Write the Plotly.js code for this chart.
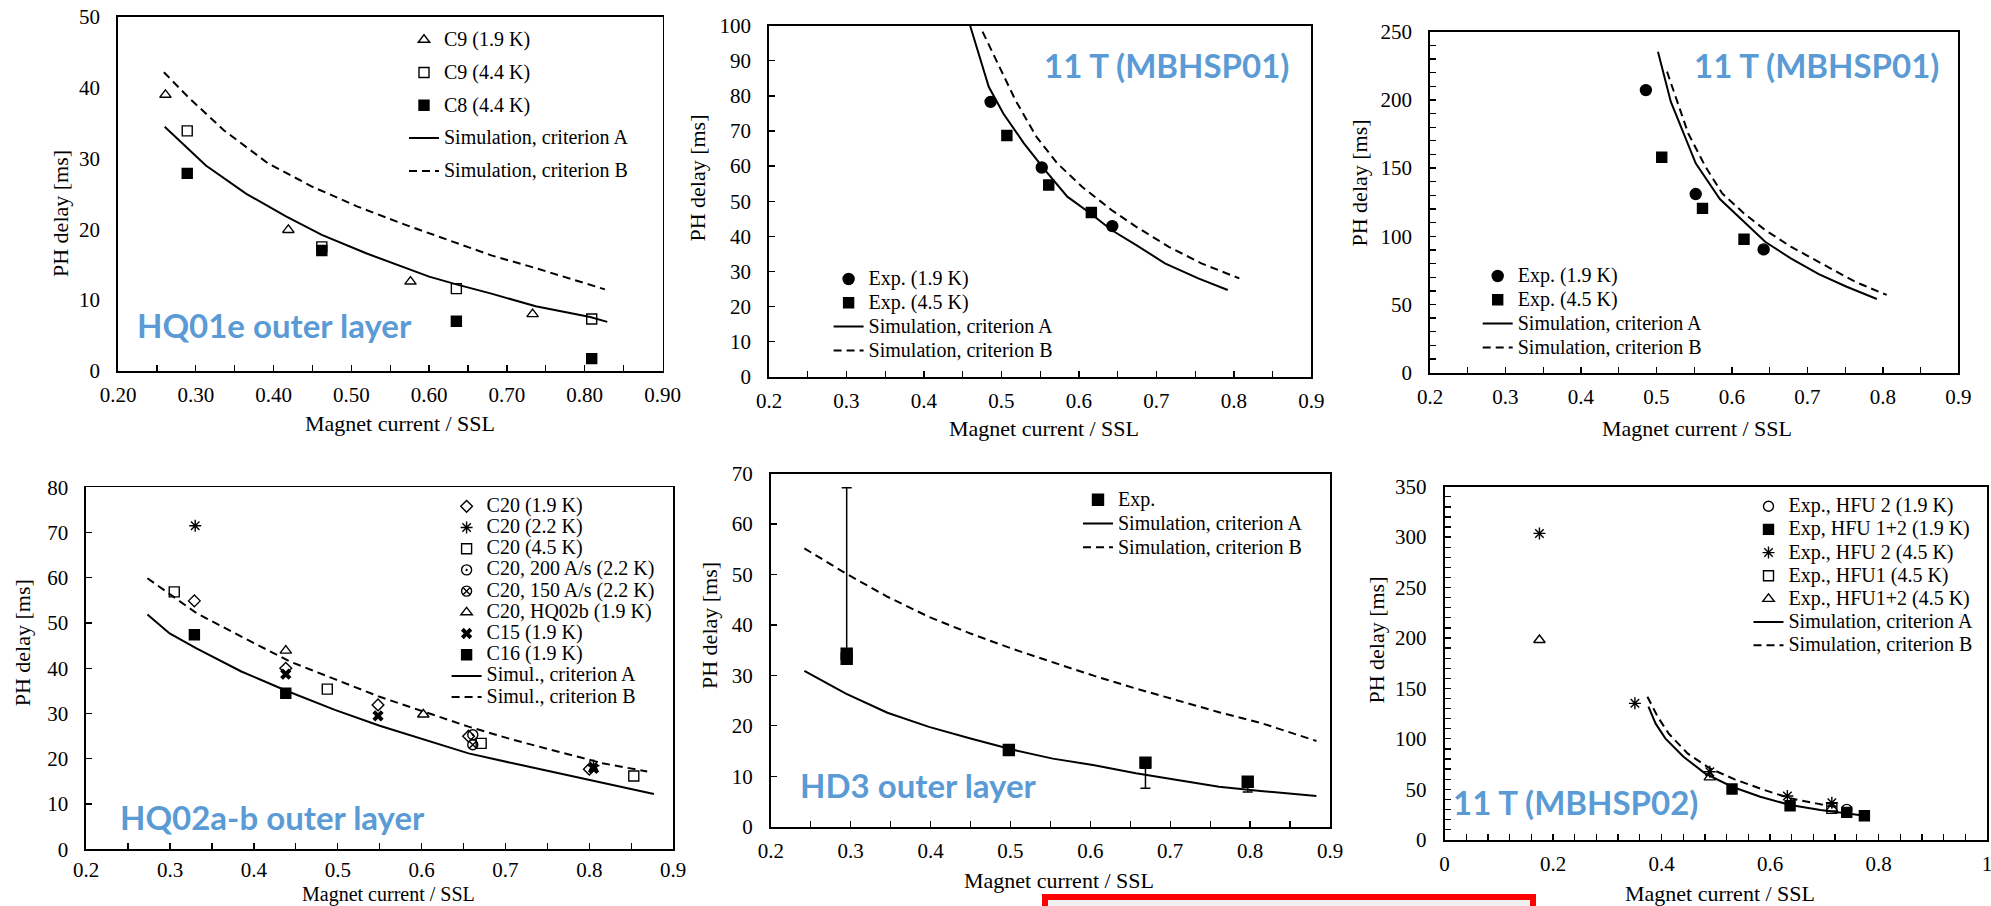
<!DOCTYPE html>
<html><head><meta charset="utf-8">
<script src="https://cdn.plot.ly/plotly-3.0.1.min.js"></script>
<style>html,body{margin:0;padding:0;background:#fff;}#chart{width:1991px;height:906px;}</style>
</head><body><div id="chart"></div>
<script>
// ---------- Panel 1: HQ01e outer layer ----------
const P1_C9_19_X = [0.261, 0.419, 0.576, 0.733];
const P1_C9_19_Y = [39.0, 19.9, 12.6, 8.0];
const P1_C9_44_X = [0.289, 0.462, 0.635, 0.809];
const P1_C9_44_Y = [33.9, 17.5, 11.6, 7.3];
const P1_C8_44_X = [0.289, 0.462, 0.635, 0.809];
const P1_C8_44_Y = [27.9, 17.0, 7.0, 1.7];
const P1_SIMA_X = [0.260, 0.313, 0.365, 0.416, 0.462, 0.519, 0.600, 0.635, 0.680, 0.737, 0.807, 0.829];
const P1_SIMA_Y = [34.5, 29.0, 25.0, 21.8, 19.2, 16.6, 13.3, 12.2, 10.9, 9.1, 7.6, 6.9];
const P1_SIMB_X = [0.259, 0.290, 0.336, 0.393, 0.450, 0.508, 0.565, 0.623, 0.680, 0.737, 0.795, 0.826];
const P1_SIMB_Y = [42.2, 38.7, 34.0, 29.3, 26.0, 23.2, 20.8, 18.5, 16.3, 14.5, 12.6, 11.5];
const P1_NAMES = ["C9 (1.9 K)", "C9 (4.4 K)", "C8 (4.4 K)", "Simulation, criterion A", "Simulation, criterion B"];

// ---------- Panel 2: 11 T (MBHSP01), 0-100 ms ----------
const P2_EXP19_X = [0.486, 0.552, 0.643];
const P2_EXP19_Y = [78.3, 59.6, 42.9];
const P2_EXP45_X = [0.507, 0.561, 0.616];
const P2_EXP45_Y = [68.7, 54.6, 46.8];
const P2_SIMA_X = [0.4596, 0.4836, 0.5024, 0.529, 0.556, 0.585, 0.615, 0.642, 0.674, 0.711, 0.754, 0.792];
const P2_SIMA_Y = [100, 82.6, 75.0, 66.5, 58.9, 51.3, 46.5, 41.8, 37.5, 32.3, 28.0, 24.7];
const P2_SIMB_X = [0.4756, 0.497, 0.518, 0.545, 0.572, 0.604, 0.642, 0.674, 0.716, 0.758, 0.807];
const P2_SIMB_Y = [98.3, 88.3, 78.8, 68.4, 60.8, 54.1, 47.5, 42.7, 37.0, 32.3, 28.0];
const P2_NAMES = ["Exp. (1.9 K)", "Exp. (4.5 K)", "Simulation, criterion A", "Simulation, criterion B"];

// ---------- Panel 3: 11 T (MBHSP01), 0-250 ms ----------
const P3_EXP19_X = [0.486, 0.552, 0.642];
const P3_EXP19_Y = [207.2, 131.0, 90.4];
const P3_EXP45_X = [0.507, 0.561, 0.616];
const P3_EXP45_Y = [157.9, 120.5, 97.8];
const P3_SIMA_X = [0.502, 0.519, 0.536, 0.552, 0.584, 0.616, 0.644, 0.678, 0.715, 0.752, 0.792];
const P3_SIMA_Y = [235.3, 198.7, 175.5, 153.5, 127.3, 110.7, 96.0, 83.8, 72.3, 63.0, 54.0];
const P3_SIMB_X = [0.514, 0.525, 0.542, 0.565, 0.587, 0.616, 0.644, 0.678, 0.718, 0.763, 0.805];
const P3_SIMB_Y = [220.7, 202.3, 175.5, 151.0, 131.5, 116.8, 104.6, 92.4, 80.2, 66.7, 57.0];
const P3_NAMES = ["Exp. (1.9 K)", "Exp. (4.5 K)", "Simulation, criterion A", "Simulation, criterion B"];

// ---------- Panel 4: HQ02a-b outer layer ----------
const P4_C20_19_X = [0.329, 0.438, 0.548, 0.656, 0.800];
const P4_C20_19_Y = [54.9, 40.0, 31.9, 25.0, 17.7];
const P4_C20_22_X = [0.330, 0.805];
const P4_C20_22_Y = [71.5, 18.5];
const P4_C20_45_X = [0.305, 0.4875, 0.671, 0.853];
const P4_C20_45_Y = [56.9, 35.4, 23.4, 16.2];
const P4_C20_200_X = [0.661];
const P4_C20_200_Y = [25.3];
const P4_C20_150_X = [0.661];
const P4_C20_150_Y = [23.1];
const P4_C20_HQ02B_X = [0.438, 0.602];
const P4_C20_HQ02B_Y = [43.9, 29.8];
const P4_C15_X = [0.438, 0.548, 0.805];
const P4_C15_Y = [38.7, 29.5, 17.9];
const P4_C16_X = [0.329, 0.438];
const P4_C16_Y = [47.4, 34.5];
const P4_SIMA_X = [0.273, 0.2995, 0.3315, 0.385, 0.438, 0.4965, 0.550, 0.603, 0.656, 0.709, 0.763, 0.816, 0.877];
const P4_SIMA_Y = [51.9, 47.7, 44.4, 39.3, 35.1, 30.8, 27.3, 24.2, 21.2, 19.0, 16.8, 14.6, 12.2];
const P4_SIMB_X = [0.273, 0.3315, 0.385, 0.443, 0.4965, 0.550, 0.603, 0.656, 0.709, 0.763, 0.816, 0.869];
const P4_SIMB_Y = [59.9, 52.2, 47.0, 41.5, 37.6, 33.7, 30.4, 27.1, 24.2, 21.6, 19.0, 17.2];
const P4_NAMES = ["C20 (1.9 K)", "C20 (2.2 K)", "C20 (4.5 K)", "C20, 200 A/s (2.2 K)", "C20, 150 A/s (2.2 K)",
  "C20, HQ02b (1.9 K)", "C15 (1.9 K)", "C16 (1.9 K)", "Simul., criterion A", "Simul., criterion B"];

// ---------- Panel 5: HD3 outer layer ----------
const P5_EXP_X = [0.295, 0.295, 0.498, 0.669, 0.797];
const P5_EXP_Y = [33.3, 34.3, 15.2, 12.7, 8.9];
const P5_ERR_X = [0.295, 0.669, 0.797];
const P5_ERR_Y = [49.75, 9.6, 7.9];
const P5_ERR = [17.45, 2.0, 1.0];
const P5_SIMA_X = [0.242, 0.294, 0.346, 0.398, 0.450, 0.502, 0.553, 0.605, 0.657, 0.709, 0.761, 0.813, 0.883];
const P5_SIMA_Y = [30.9, 26.4, 22.6, 19.8, 17.5, 15.3, 13.5, 12.2, 10.6, 9.25, 7.9, 7.1, 6.1];
const P5_SIMB_X = [0.242, 0.294, 0.346, 0.398, 0.450, 0.502, 0.553, 0.605, 0.657, 0.709, 0.761, 0.813, 0.883];
const P5_SIMB_Y = [55.2, 50.2, 45.6, 41.6, 38.3, 35.3, 32.6, 29.9, 27.4, 25.0, 22.7, 20.6, 17.0];
const P5_NAMES = ["Exp.", "Simulation, criterion A", "Simulation, criterion B"];

// ---------- Panel 6: 11 T (MBHSP02) ----------
const P6_HFU2_19_X = [0.7415];
const P6_HFU2_19_Y = [30.1];
const P6_HFU12_19_X = [0.530, 0.637, 0.7415, 0.774];
const P6_HFU12_19_Y = [50.2, 33.7, 27.1, 23.8];
const P6_HFU2_45_X = [0.175, 0.351, 0.489, 0.632, 0.714];
const P6_HFU2_45_Y = [303.7, 135.2, 67.4, 43.3, 36.7];
const P6_HFU1_45_X = [0.714];
const P6_HFU1_45_Y = [31.1];
const P6_HFU12_45_X = [0.175, 0.489, 0.714];
const P6_HFU12_45_Y = [198.0, 61.8, 31.0];
const P6_SIMA_X = [0.376, 0.389, 0.407, 0.4405, 0.480, 0.530, 0.582, 0.6375, 0.693, 0.7415, 0.775];
const P6_SIMA_Y = [131.9, 115.3, 100.5, 82.3, 65.8, 52.5, 42.6, 34.4, 29.4, 26.1, 23.8];
const P6_SIMB_X = [0.374, 0.393, 0.413, 0.448, 0.489, 0.535, 0.590, 0.6375, 0.685, 0.728];
const P6_SIMB_Y = [141.8, 121.9, 105.4, 85.6, 70.7, 59.8, 49.2, 41.0, 36.0, 31.7];
const P6_NAMES = ["Exp., HFU 2 (1.9 K)", "Exp, HFU 1+2 (1.9 K)", "Exp., HFU 2 (4.5 K)", "Exp., HFU1 (4.5 K)",
  "Exp., HFU1+2 (4.5 K)", "Simulation, criterion A", "Simulation, criterion B"];

const PANEL_LABELS = ["HQ01e outer layer", "11 T (MBHSP01)", "11 T (MBHSP01)", "HQ02a-b outer layer", "HD3 outer layer", "11 T (MBHSP02)"];
const X_TITLE = "Magnet current / SSL";
const Y_TITLE = "PH delay [ms]";

// ---------- layout helpers ----------
const W = 1991, H = 906;
const px = v => v / W;
const py = v => 1 - v / H;
const SERIF = "Liberation Serif, Times New Roman, serif";
const LEG_TXT = 20;
const lname = n => '<span style="font-size:' + LEG_TXT + 'px">' + n + '</span>';

// panel boxes in pixels [left, right, top, bottom]
const BOX = [
  [118, 662.5, 17, 370.7],
  [769, 1311.4, 25.7, 376.7],
  [1430, 1958.4, 31.7, 372.7],
  [86.2, 673.2, 487.3, 849.3],
  [770.8, 1330, 473.7, 826.7],
  [1444.5, 1987, 486.7, 839.7]
];

function axisBase() {
  return {
    showline: true, linecolor: '#000', linewidth: 1.8, mirror: true,
    showgrid: false, zeroline: false, fixedrange: true, automargin: false,
    ticks: 'inside', ticklen: 6, tickwidth: 1.3, tickcolor: '#000',
    ticklabeloverflow: 'allow',
    tickfont: {family: SERIF, size: 21, color: '#000'}
  };
}
function xAxis(i, range, dtick, minorDtick, fmt, standoff) {
  const a = axisBase();
  a.domain = [px(BOX[i][0]), px(BOX[i][1])];
  a.anchor = 'y' + (i ? i + 1 : '');
  a.range = range; a.dtick = dtick; a.tick0 = 0;
  if (fmt) a.tickformat = fmt;
  a.ticklabelstandoff = (standoff === undefined) ? 4 : standoff;
  if (minorDtick) a.minor = {dtick: minorDtick, tick0: 0, ticks: 'inside', ticklen: 6, tickwidth: 1.3, tickcolor: '#000', showgrid: false};
  return a;
}
function yAxis(i, range, dtick, minorDtick, ticks) {
  const a = axisBase();
  a.domain = [py(BOX[i][3]), py(BOX[i][2])];
  a.anchor = 'x' + (i ? i + 1 : '');
  a.range = range; a.dtick = dtick; a.tick0 = 0;
  a.ticks = ticks;
  a.ticklabelstandoff = 12;
  if (minorDtick) a.minor = {dtick: minorDtick, tick0: 0, ticks: 'inside', ticklen: 6, tickwidth: 1.3, tickcolor: '#000', showgrid: false};
  return a;
}

function mk(i, x, y, name, symbol, size, legend, group, extra) {
  const t = {
    type: 'scatter', mode: 'markers', x: x, y: y, name: lname(name),
    xaxis: 'x' + (i ? i + 1 : ''), yaxis: 'y' + (i ? i + 1 : ''),
    legend: legend, legendgroup: group, cliponaxis: true,
    marker: {symbol: symbol, size: size, color: '#000', line: {color: '#000', width: 1.4}}
  };
  return Object.assign(t, extra || {});
}
function ln(i, x, y, name, dash, legend, group) {
  return {
    type: 'scatter', mode: 'lines', x: x, y: y, name: lname(name),
    xaxis: 'x' + (i ? i + 1 : ''), yaxis: 'y' + (i ? i + 1 : ''),
    legend: legend, legendgroup: group,
    line: {color: '#000', width: 2, dash: dash ? '8px,5px' : 'solid'}
  };
}

const traces = [];
// Panel 1
traces.push(mk(0, P1_C9_19_X, P1_C9_19_Y, P1_NAMES[0], 'triangle-up-open', 10, 'legend', 'a1'));
traces.push(mk(0, P1_C9_44_X, P1_C9_44_Y, P1_NAMES[1], 'square-open', 10, 'legend', 'a2'));
traces.push(mk(0, P1_C8_44_X, P1_C8_44_Y, P1_NAMES[2], 'square', 10, 'legend', 'a3'));
traces.push(ln(0, P1_SIMA_X, P1_SIMA_Y, P1_NAMES[3], false, 'legend', 'a4'));
traces.push(ln(0, P1_SIMB_X, P1_SIMB_Y, P1_NAMES[4], true, 'legend', 'a5'));
// Panel 2
traces.push(mk(1, P2_EXP19_X, P2_EXP19_Y, P2_NAMES[0], 'circle', 11, 'legend2', 'b'));
traces.push(mk(1, P2_EXP45_X, P2_EXP45_Y, P2_NAMES[1], 'square', 10, 'legend2', 'b'));
traces.push(ln(1, P2_SIMA_X, P2_SIMA_Y, P2_NAMES[2], false, 'legend2', 'b'));
traces.push(ln(1, P2_SIMB_X, P2_SIMB_Y, P2_NAMES[3], true, 'legend2', 'b'));
// Panel 3
traces.push(mk(2, P3_EXP19_X, P3_EXP19_Y, P3_NAMES[0], 'circle', 11, 'legend3', 'c'));
traces.push(mk(2, P3_EXP45_X, P3_EXP45_Y, P3_NAMES[1], 'square', 10, 'legend3', 'c'));
traces.push(ln(2, P3_SIMA_X, P3_SIMA_Y, P3_NAMES[2], false, 'legend3', 'c'));
traces.push(ln(2, P3_SIMB_X, P3_SIMB_Y, P3_NAMES[3], true, 'legend3', 'c'));
// Panel 4
traces.push(mk(3, P4_C20_19_X, P4_C20_19_Y, P4_NAMES[0], 'diamond-open', 9, 'legend4', 'd'));
traces.push(mk(3, P4_C20_22_X, P4_C20_22_Y, P4_NAMES[1], 'asterisk-open', 10, 'legend4', 'd'));
traces.push(mk(3, P4_C20_45_X, P4_C20_45_Y, P4_NAMES[2], 'square-open', 10, 'legend4', 'd'));
traces.push(mk(3, P4_C20_200_X, P4_C20_200_Y, P4_NAMES[3], 'circle-open-dot', 10, 'legend4', 'd'));
traces.push(mk(3, P4_C20_150_X, P4_C20_150_Y, P4_NAMES[4], 'circle-x-open', 10, 'legend4', 'd'));
traces.push(mk(3, P4_C20_HQ02B_X, P4_C20_HQ02B_Y, P4_NAMES[5], 'triangle-up-open', 10, 'legend4', 'd'));
traces.push(mk(3, P4_C15_X, P4_C15_Y, P4_NAMES[6], 'x', 10, 'legend4', 'd', {marker: {symbol: 'x', size: 10, color: '#000', line: {width: 0}}}));
traces.push(mk(3, P4_C16_X, P4_C16_Y, P4_NAMES[7], 'square', 10, 'legend4', 'd'));
traces.push(ln(3, P4_SIMA_X, P4_SIMA_Y, P4_NAMES[8], false, 'legend4', 'd'));
traces.push(ln(3, P4_SIMB_X, P4_SIMB_Y, P4_NAMES[9], true, 'legend4', 'd'));
// Panel 5
traces.push({
  type: 'scatter', mode: 'markers', x: P5_ERR_X, y: P5_ERR_Y, xaxis: 'x5', yaxis: 'y5',
  showlegend: false, hoverinfo: 'skip', marker: {size: 1, color: 'rgba(0,0,0,0)'},
  error_y: {type: 'data', array: P5_ERR, visible: true, color: '#000', thickness: 1.5, width: 5}
});
traces.push(mk(4, P5_EXP_X, P5_EXP_Y, P5_NAMES[0], 'square', 11, 'legend5', 'e'));
traces.push(ln(4, P5_SIMA_X, P5_SIMA_Y, P5_NAMES[1], false, 'legend5', 'e'));
traces.push(ln(4, P5_SIMB_X, P5_SIMB_Y, P5_NAMES[2], true, 'legend5', 'e'));
// Panel 6
traces.push(mk(5, P6_HFU2_19_X, P6_HFU2_19_Y, P6_NAMES[0], 'circle-open', 10, 'legend6', 'f'));
traces.push(mk(5, P6_HFU12_19_X, P6_HFU12_19_Y, P6_NAMES[1], 'square', 10, 'legend6', 'f'));
traces.push(mk(5, P6_HFU2_45_X, P6_HFU2_45_Y, P6_NAMES[2], 'asterisk-open', 10, 'legend6', 'f'));
traces.push(mk(5, P6_HFU1_45_X, P6_HFU1_45_Y, P6_NAMES[3], 'square-open', 10, 'legend6', 'f'));
traces.push(mk(5, P6_HFU12_45_X, P6_HFU12_45_Y, P6_NAMES[4], 'triangle-up-open', 10, 'legend6', 'f'));
traces.push(ln(5, P6_SIMA_X, P6_SIMA_Y, P6_NAMES[5], false, 'legend6', 'f'));
traces.push(ln(5, P6_SIMB_X, P6_SIMB_Y, P6_NAMES[6], true, 'legend6', 'f'));

function legendAt(textX, firstRowY, fontSize, rowH, gap, grouped) {
  return {
    x: px(textX - 40), y: py(firstRowY - rowH / 2 - 2), xanchor: 'left', yanchor: 'top',
    bgcolor: 'rgba(0,0,0,0)', borderwidth: 0,
    font: {family: SERIF, size: fontSize, color: '#000'},
    traceorder: grouped ? 'grouped' : 'normal', tracegroupgap: gap || 0
  };
}

const layout = {
  width: W, height: H, margin: {l: 0, r: 0, t: 0, b: 0, pad: 0},
  paper_bgcolor: '#fff', plot_bgcolor: 'rgba(0,0,0,0)',
  font: {family: SERIF, color: '#000'},
  showlegend: true,
  xaxis: xAxis(0, [0.2, 0.9], 0.1, 0.05, '.2f'),
  yaxis: yAxis(0, [0, 50], 10, null, ''),
  xaxis2: xAxis(1, [0.2, 0.9], 0.1, 0.05, '.1f'),
  yaxis2: yAxis(1, [0, 100], 10, null, 'inside'),
  xaxis3: xAxis(2, [0.2, 0.9], 0.1, 0.05, '.1f'),
  yaxis3: yAxis(2, [0, 250], 50, 10, 'inside'),
  xaxis4: xAxis(3, [0.2, 0.9], 0.1, 0.05, '.1f', 1),
  yaxis4: yAxis(3, [0, 80], 10, null, 'inside'),
  xaxis5: xAxis(4, [0.2, 0.9], 0.1, 0.05, '.1f'),
  yaxis5: yAxis(4, [0, 70], 10, null, 'inside'),
  xaxis6: xAxis(5, [0, 1], 0.2, 0.04, null),
  yaxis6: yAxis(5, [0, 350], 50, 10, 'inside'),
  legend: legendAt(444, 36.7, 16, 23.8, 9, true),
  legend2: legendAt(868.6, 276, 16, 23.8, 0, false),
  legend3: legendAt(1517.7, 273, 16, 23.8, 0, false),
  legend4: legendAt(486.6, 503.3, 14, 21.2, 0, false),
  legend5: legendAt(1118, 496.7, 16, 23.8, 0, false),
  legend6: legendAt(1788.5, 503.3, 15.5, 23.2, 0, false),
  annotations: [],
  shapes: [
    {type: 'rect', xref: 'paper', yref: 'paper', x0: px(1045), x1: px(1533), y0: py(940), y1: py(897),
     line: {color: '#ff0000', width: 6}, fillcolor: '#f0f0f0', layer: 'above'}
  ]
};

// axis titles [x, y, fontSize]
const XT_POS = [[399.5, 423.3, 22], [1043.6, 428.3, 22], [1696.5, 428.3, 22], [388, 894.5, 20], [1059.3, 880, 22], [1720, 893.3, 22]];
const YT_POS = [[60, 214], [696.6, 178], [1358.5, 183], [22.3, 643], [709, 626], [1375.6, 640]];
XT_POS.forEach(p => layout.annotations.push({
  text: X_TITLE, xref: 'paper', yref: 'paper', x: px(p[0]), y: py(p[1]), xanchor: 'center', yanchor: 'middle',
  showarrow: false, font: {family: SERIF, size: p[2], color: '#000'}
}));
YT_POS.forEach(p => layout.annotations.push({
  text: Y_TITLE, xref: 'paper', yref: 'paper', x: px(p[0]), y: py(p[1]), xanchor: 'center', yanchor: 'middle',
  textangle: -90, showarrow: false, font: {family: SERIF, size: 22, color: '#000'}
}));
// blue panel labels
const LBL_POS = [[274.5, 325], [1166, 65], [1816, 65], [272, 816.7], [918, 785], [1575.6, 801.7]];
LBL_POS.forEach((p, k) => layout.annotations.push({
  text: PANEL_LABELS[k], xref: 'paper', yref: 'paper', x: px(p[0]), y: py(p[1]), xanchor: 'center', yanchor: 'middle',
  showarrow: false, font: {family: 'Lato, Open Sans, sans-serif', size: 33, color: '#5b9bd5', weight: 700}
}));

Plotly.newPlot('chart', traces, layout, {staticPlot: true, displayModeBar: false});
</script>
</body></html>
